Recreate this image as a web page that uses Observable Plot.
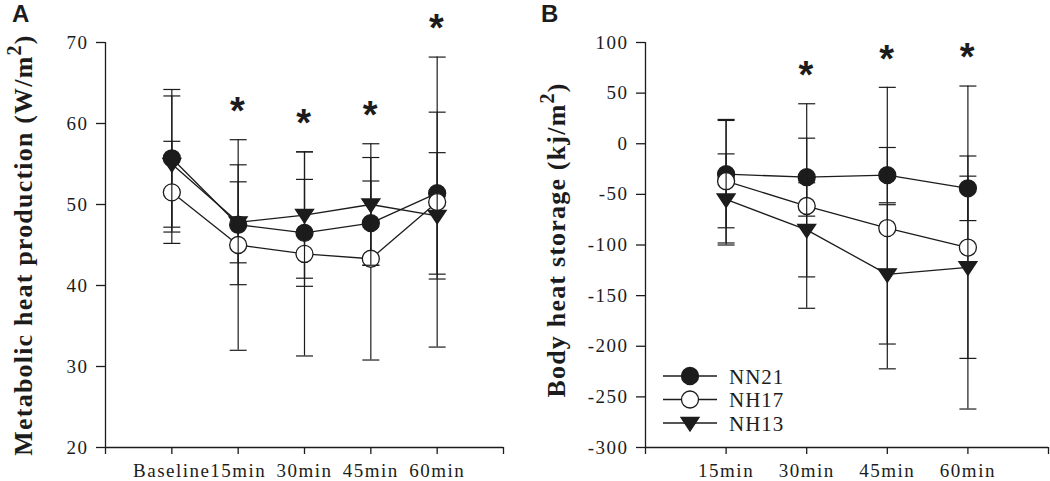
<!DOCTYPE html>
<html>
<head>
<meta charset="utf-8">
<script src="https://cdn.jsdelivr.net/npm/d3@7"></script>
<script src="https://cdn.jsdelivr.net/npm/@observablehq/plot@0.6"></script>
<style>
  html, body { margin: 0; padding: 0; background: white; overflow: hidden; }
  #wrap { display: flex; width: 1050px; height: 481px; }
  svg { overflow: visible; }
</style>
</head>
<body>
<div id="wrap"></div>
<script>
// ---------- Data ----------
const seriesNames = ["NN21", "NH17", "NH13"];

// Panel A: Metabolic heat production (W/m2)
const catsA = ["Baseline", "15min", "30min", "45min", "60min"];
const nn21A = [55.7, 47.5, 46.5, 47.7, 51.4];
const nn21Asd = [8.5, 7.4, 6.6, 5.2, 10.0];
const nh17A = [51.5, 45.0, 43.9, 43.3, 50.3];
const nh17Asd = [6.3, 13.0, 12.6, 12.5, 17.9];
const nh13A = [55.0, 47.8, 48.7, 50.0, 48.6];
const nh13Asd = [8.4, 5.0, 7.8, 7.5, 7.8];
const sigA = [false, true, true, true, true];
const yTicksA = [20, 30, 40, 50, 60, 70];

// Panel B: Body heat storage (kj/m2)
const catsB = ["15min", "30min", "45min", "60min"];
const nn21B = [-30, -33, -31, -44];
const nn21Bsd = [53, 38.5, 27.3, 31.9];
const nh17B = [-37, -61.5, -83.3, -102.5];
const nh17Bsd = [61, 101, 139, 159.5];
const nh13B = [-55, -85, -129, -122];
const nh13Bsd = [45, 46.5, 68.8, 90];
const sigB = [false, true, true, true];
const yTicksB = [-300, -250, -200, -150, -100, -50, 0, 50, 100];

// ---------- Helpers ----------
const SERIF = "Liberation Serif, Times New Roman, serif";
const SANS = "Liberation Sans, Arial, sans-serif";
function rows(cats, means, sds, series) {
  return cats.map((c, i) => ({ i, cat: c, series, mean: means[i], lo: means[i] - sds[i], hi: means[i] + sds[i] }));
}
const triDown = {
  draw(ctx, size) {
    const r = Math.sqrt(size / Math.PI);
    const w = 1.06 * r, t = -0.65 * r, b = 0.95 * r;
    ctx.moveTo(-w, t); ctx.lineTo(w, t); ctx.lineTo(0, b); ctx.closePath();
  }
};
const capSym = {
  draw(ctx, size) {
    const r = Math.sqrt(size / Math.PI);
    ctx.moveTo(-r, 0); ctx.lineTo(r, 0);
  }
};
const INK = "#1c1c1c";
const styleDot = {
  NN21: { fill: INK, stroke: INK, symbol: "circle" },
  NH17: { fill: "white", stroke: INK, symbol: "circle" },
  NH13: { fill: INK, stroke: INK, symbol: triDown }
};

function seriesMarks(data, name) {
  const s = styleDot[name];
  return [
    Plot.line(data, { x: "i", y: "mean", stroke: INK, strokeWidth: 1.3 }),
    Plot.ruleX(data, { x: "i", y1: "lo", y2: "hi", stroke: INK, strokeWidth: 1.2 }),
    Plot.dot(data, { x: "i", y: "hi", symbol: capSym, r: 8.5, stroke: INK, strokeWidth: 1.2, fill: "none" }),
    Plot.dot(data, { x: "i", y: "lo", symbol: capSym, r: 8.5, stroke: INK, strokeWidth: 1.2, fill: "none" }),
    Plot.dot(data, { x: "i", y: "mean", symbol: s.symbol, r: 8.5, fill: s.fill, stroke: s.stroke, strokeWidth: 1.3 })
  ];
}

function starData(cats, sig, all) {
  return cats.map((c, i) => ({ i, top: d3.max(all, d => d[i].hi), sig: sig[i] })).filter(d => d.sig);
}

function panel({ cats, groups, sig, yDomain, yTicks, marginLeft, marginRight, xMax }) {
  const all = groups.map(g => g.data);
  const stars = starData(cats, sig, all);
  const xt = d3.range(-1, xMax + 1);
  const svg = Plot.plot({
    width: 525, height: 481,
    marginLeft, marginRight, marginTop: 42, marginBottom: 34,
    x: { domain: [-1, xMax] },
    y: { domain: yDomain },
    style: { fontFamily: SERIF, fontSize: "19px", color: INK, background: "white", letterSpacing: "1.5px", overflow: "visible" },
    marks: [
      Plot.ruleX([-1], { stroke: INK, strokeWidth: 1.3 }),
      Plot.ruleY([yDomain[0]], { stroke: INK, strokeWidth: 1.3 }),
      Plot.axisX({ ticks: xt, tickFormat: i => cats[i] ?? "", tickSize: 7, tickPadding: 9, label: null, stroke: INK, strokeWidth: 1.3, strokeOpacity: 1, fontFamily: SERIF, fontSize: 19 }),
      Plot.axisY({ ticks: yTicks, tickFormat: d => String(d), tickSize: 9, tickPadding: 8, label: null, stroke: INK, strokeWidth: 1.3, strokeOpacity: 1, fontFamily: SERIF, fontSize: 19 }),
      ...groups.flatMap(g => seriesMarks(g.data, g.name)),
      Plot.text(stars, { x: "i", y: "top", text: () => "*", fontFamily: SANS, fontWeight: "bold", fontSize: 38, dy: -28, fill: INK })
    ]
  });
  svg.setAttribute("font-family", SERIF);
  return svg;
}

function addTitle(svg, x, y, main, sup, tail) {
  const t = d3.select(svg).append("text")
    .attr("transform", `translate(${x},${y}) rotate(-90)`)
    .attr("text-anchor", "middle")
    .attr("font-family", SERIF)
    .style("font-family", SERIF)
    .style("font-weight", "bold")
    .style("font-size", "26px")
    .style("letter-spacing", "1.2px")
    .attr("fill", INK);
  t.append("tspan").text(main);
  t.append("tspan").text(sup).attr("dy", -11).style("font-size", "20px");
  t.append("tspan").text(tail).attr("dy", 11).style("font-size", "26px");
}
function addLetter(svg, x, y, letter) {
  d3.select(svg).append("text").attr("x", x).attr("y", y)
    .attr("text-anchor", "start")
    .style("font-family", SANS)
    .style("font-weight", "bold").style("font-size", "24px").style("letter-spacing", "0")
    .attr("fill", INK).text(letter);
}

// ---------- Panel A ----------
const groupsA = [
  { name: "NN21", data: rows(catsA, nn21A, nn21Asd, "NN21") },
  { name: "NH17", data: rows(catsA, nh17A, nh17Asd, "NH17") },
  { name: "NH13", data: rows(catsA, nh13A, nh13Asd, "NH13") }
];
const svgA = panel({ cats: catsA, groups: groupsA, sig: sigA, yDomain: [20, 70], yTicks: yTicksA, marginLeft: 105, marginRight: 22, xMax: catsA.length });
addTitle(svgA, 32, 245, "Metabolic heat production (W/m", "2", ")");
addLetter(svgA, 12, 22, "A");

// ---------- Panel B ----------
const groupsB = [
  { name: "NN21", data: rows(catsB, nn21B, nn21Bsd, "NN21") },
  { name: "NH17", data: rows(catsB, nh17B, nh17Bsd, "NH17") },
  { name: "NH13", data: rows(catsB, nh13B, nh13Bsd, "NH13") }
];
const svgB = panel({ cats: catsB, groups: groupsB, sig: sigB, yDomain: [-300, 100], yTicks: yTicksB, marginLeft: 120, marginRight: 2, xMax: catsB.length });
addTitle(svgB, 40, 240, "Body heat storage (kj/m", "2", ")");
addLetter(svgB, 16, 22, "B");

// Legend (panel B)
{
  const g = d3.select(svgB).append("g");
  seriesNames.forEach((name, k) => {
    const cy = 376 + k * 23.5;
    g.append("line").attr("x1", 138).attr("x2", 192).attr("y1", cy).attr("y2", cy).attr("stroke", INK).attr("stroke-width", 1.3);
    const s = styleDot[name];
    if (s.symbol === "circle") {
      g.append("circle").attr("cx", 165).attr("cy", cy).attr("r", 8.5).attr("fill", s.fill).attr("stroke", INK).attr("stroke-width", 1.3);
    } else {
      g.append("path").attr("transform", `translate(165,${cy})`).attr("d", d3.symbol(triDown, Math.PI * 8.5 * 8.5)()).attr("fill", INK).attr("stroke", INK).attr("stroke-width", 1.3);
    }
    g.append("text").attr("x", 204).attr("y", cy + 7.5)
      .attr("text-anchor", "start")
      .style("font-family", SERIF).style("font-size", "21px").style("letter-spacing", "1px")
      .attr("fill", INK).text(name);
  });
}

document.getElementById("wrap").append(svgA, svgB);
</script>
</body>
</html>
